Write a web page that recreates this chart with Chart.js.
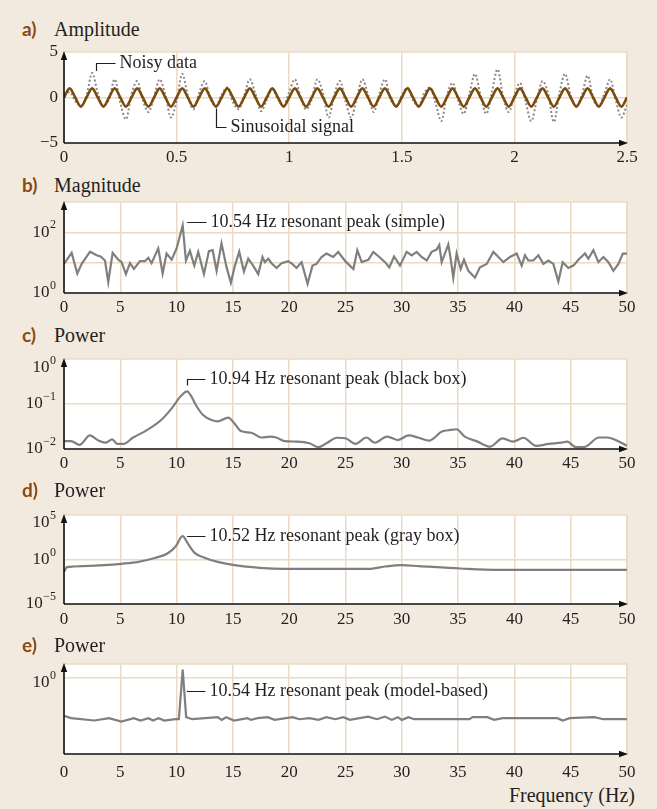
<!DOCTYPE html>
<html>
<head>
<meta charset="utf-8">
<script src="https://cdn.jsdelivr.net/npm/chart.js@4.4.1/dist/chart.umd.min.js"></script>
<style>
  body { margin: 0; background: #f3eadf; }
  #page { position: relative; width: 657px; height: 809px; background: #f3eadf; overflow: hidden; }
  #page canvas { position: absolute; left: 0; }
  .tag { position: absolute; font: bold 19px Lato, "Open Sans", sans-serif; line-height: 20px; color: #8a4a12; }
  .name { position: absolute; font: 20px "Liberation Serif", "Times New Roman", serif; line-height: 20px; color: #231f20; }
</style>
</head>
<body>
<div id="page">
  <div class="tag" style="left:22px; top:19px">a)</div><div class="name" style="left:54px; top:19px">Amplitude</div>
  <canvas id="chartA" width="657" height="131" style="top:42px"></canvas>
  <div class="tag" style="left:22px; top:175px">b)</div><div class="name" style="left:54px; top:175px">Magnitude</div>
  <canvas id="chartB" width="657" height="131" style="top:192px"></canvas>
  <div class="tag" style="left:22px; top:325px">c)</div><div class="name" style="left:54px; top:325px">Power</div>
  <canvas id="chartC" width="657" height="130" style="top:349px"></canvas>
  <div class="tag" style="left:22px; top:480px">d)</div><div class="name" style="left:54px; top:480px">Power</div>
  <canvas id="chartD" width="657" height="129" style="top:505px"></canvas>
  <div class="tag" style="left:22px; top:635px">e)</div><div class="name" style="left:54px; top:635px">Power</div>
  <canvas id="chartE" width="657" height="130" style="top:654px"></canvas>
  <div class="name" style="right:22px; top:785px">Frequency (Hz)</div>
</div>
<script>
// time axis, panel a (s)
const sampleTimes = [0,0.025,0.05,0.075,0.1,0.125,0.15,0.175,0.2,0.225,0.25,0.275,0.3,0.325,0.35,0.375,0.4,0.425,0.45,0.475,
  0.5,0.525,0.55,0.575,0.6,0.625,0.65,0.675,0.7,0.725,0.75,0.775,0.8,0.825,0.85,0.875,0.9,0.925,0.95,0.975,
  1,1.025,1.05,1.075,1.1,1.125,1.15,1.175,1.2,1.225,1.25,1.275,1.3,1.325,1.35,1.375,1.4,1.425,1.45,1.475,
  1.5,1.525,1.55,1.575,1.6,1.625,1.65,1.675,1.7,1.725,1.75,1.775,1.8,1.825,1.85,1.875,1.9,1.925,1.95,1.975,
  2,2.025,2.05,2.075,2.1,2.125,2.15,2.175,2.2,2.225,2.25,2.275,2.3,2.325,2.35,2.375,2.4,2.425,2.45,2.475,2.5];
const sineSignal = [0,1,0,-1,0,1,0,-1,0,1,0,-1,0,1,0,-1,0,1,0,-1,0,1,0,-1,0,1,0,-1,0,1,0,-1,0,1,0,-1,0,1,0,-1,
  0,1,0,-1,0,1,0,-1,0,1,0,-1,0,1,0,-1,0,1,0,-1,0,1,0,-1,0,1,0,-1,0,1,0,-1,0,1,0,-1,0,1,0,-1,
  0,1,0,-1,0,1,0,-1,0,1,0,-1,0,1,0,-1,0,1,0,-1,0];
const noisyData = [0.3,0.6,-0.4,-0.9, 0.2,2.7,0.5,-0.9, -0.2,2.0,-0.6,-2.4, 0.4,1.8,-0.3,-1.6, 0.1,2.0,0.3,-2.2,
  -0.4,2.6,0.2,-1.3, 0.5,1.8,-0.2,-0.9, 0.3,1.1,-0.5,-1.3, 0.2,2.0,0.4,-1.5, -0.3,0.9,-0.2,-0.9,
  0.6,2.0,0.1,-1.3, -0.2,2.0,0.5,-2.2, 0.3,1.8,-0.4,-2.2, -0.1,2.0,0.3,-1.6, 0.4,2.0,-0.2,-0.9,
  0.2,1.1,-0.3,-0.9, 0.5,1.1,-0.6,-2.6, 0.2,1.6,-0.3,-1.8, 0.4,2.6,0.2,-1.8, 0.6,3.1,0.1,-1.6,
  0.3,1.6,-0.5,-2.6, -0.2,1.8,0.4,-2.7, 0.5,2.6,0.2,-0.9, 0.3,2.4,-0.2,-0.9, 0.4,2.0,-0.3,-2.2, -0.8];

// b) magnitude spectrum, simple FFT
const simplePeakHz = 10.54;
const magFreq = [0,0.68,1.18,1.57,2.31,2.9,3.25,3.64,3.93,4.32,4.82,5.12,5.5,5.86,6.21,6.75,7.19,7.49,7.78,8.37,
  8.76,9.11,9.56,10.0,simplePeakHz,10.83,11.18,11.57,11.92,12.43,12.87,13.2,13.55,13.99,14.44,14.82,15.18,15.56,15.98,16.36,
  16.8,17.25,17.63,17.84,18.14,18.43,18.88,19.32,19.91,20.27,20.65,21.1,21.63,22.07,22.43,22.87,23.31,23.61,23.9,24.35,
  25.0,25.7,26.05,26.44,27.03,27.47,28.0,28.51,28.89,29.31,29.84,30.43,30.88,31.32,31.76,32.21,32.65,33.09,33.33,33.54,
  33.83,34.13,34.34,34.57,34.87,35.23,35.52,35.91,36.5,36.94,37.54,38.13,38.43,39.02,39.61,40.2,40.65,40.94,41.24,41.68,
  42.13,42.57,43.02,43.46,43.9,44.29,44.79,45.24,45.68,46.27,46.57,47.01,47.46,47.9,48.35,48.79,49.24,49.63,50];
const magValues = [9.1,21,4.4,9.1,23,17.5,16,11.8,2.3,21,12.5,10.4,4.2,9.6,6.2,11.2,11.2,14.6,9.6,29.5,
  4.4,20,12.5,29.5,168,11.8,24.5,8.0,22.7,4.2,24,25.8,5.4,43,7.0,2.2,8.0,23,5.1,13.5,
  8.0,4.2,15.4,10.4,13.5,9.6,6.7,9.6,11.2,9.1,6.7,10.4,2.0,8.0,9.1,15.4,20,17.5,15.4,22.7,
  11,6.2,25.8,10.4,12.5,22.7,15.4,10.4,7.0,16,8.0,22.7,17.5,22.7,15.4,11.8,22.7,27,38,10.4,
  20,40,13.5,3.2,20,6.2,12.5,5.4,3.2,7.0,9.1,22.7,17.5,10.4,15.4,20,8.0,17.5,11.8,11.8,
  17.5,9.1,11.8,9.1,2.4,10.4,6.7,8.0,12.5,20,13.5,25.8,10.4,15.4,10.4,5.4,9.1,20,20];

// c) power, black box
const blackPeakHz = 10.94;
const bbFreq = [0,0.63,1.38,2.3,3.05,3.68,4.28,4.72,5.28,6.14,7.33,8.63,9.56,10.38,blackPeakHz,11.23,11.8,12.35,13.1,13.65,
  14.58,15.14,15.7,16.63,17.56,18.3,18.86,19.6,20.7,21.8,22.6,23.3,24.25,25.0,25.9,26.86,27.6,28.7,29.65,30.6,
  31.5,32.45,33.56,34.3,34.86,35.6,36.72,37.83,38.95,39.88,40.8,41.93,43.05,44.16,44.7,45.45,46.2,47.5,48.25,49.0,50];
const bbPower = [0.015,0.015,0.0123,0.020,0.0154,0.0138,0.0163,0.013,0.013,0.018,0.026,0.044,0.080,0.15,0.19,0.159,0.087,0.057,0.044,0.041,
  0.050,0.037,0.025,0.023,0.018,0.0188,0.018,0.015,0.0146,0.0134,0.011,0.0134,0.0178,0.0173,0.013,0.018,0.0138,0.0188,0.0158,0.020,
  0.0178,0.0154,0.0244,0.0265,0.0275,0.0188,0.0146,0.0113,0.0173,0.0146,0.0178,0.0117,0.013,0.0138,0.0146,0.011,0.011,0.018,0.018,0.0158,0.0118];

// d) power, gray box
const grayPeakHz = 10.52;
const gbFreq = [0,0.26,0.82,3.6,5.1,6.6,8.07,9.19,9.93,grayPeakHz,11.05,11.6,12.54,13.65,15.14,17.37,19.6,27.05,28.5,30.0,31.5,35.2,38.6,50];
const gbPower = [0.041,0.138,0.163,0.23,0.33,0.55,1.5,4.7,31,420,49,5.6,1.5,0.55,0.23,0.115,0.089,0.089,0.163,0.23,0.18,0.098,0.069,0.069];

// e) power, model-based
const modelPeakHz = 10.54;
const mbFreq = [0,0.63,2.7,4.0,5.1,6.2,6.8,7.5,7.9,8.4,8.9,9.9,10.2,modelPeakHz,10.85,11.4,13.65,14.0,14.4,15.1,
  16.3,16.6,17.2,18.1,18.7,20.3,20.9,21.8,22.6,23.3,24.1,24.8,25.4,27.0,27.8,28.5,29.1,29.65,30.0,30.6,
  31.1,36.0,36.3,37.6,38.2,38.95,43.8,44.3,44.9,47.1,47.9,50];
const mbPower = [0.032,0.026,0.021,0.026,0.019,0.026,0.021,0.026,0.021,0.026,0.021,0.0236,0.0236,2.13,0.0284,0.0236,0.0284,0.0222,0.0284,0.0209,
  0.0259,0.0222,0.0259,0.0284,0.0222,0.0284,0.0236,0.0259,0.0222,0.0284,0.0236,0.0284,0.0222,0.030,0.0236,0.030,0.0222,0.0284,0.0222,0.0284,
  0.0236,0.0236,0.0284,0.0284,0.0222,0.0259,0.0259,0.0209,0.0259,0.0284,0.0236,0.0236];

// axes
const timeTicks = [0, 0.5, 1, 1.5, 2, 2.5];
const freqTicks = [0, 5, 10, 15, 20, 25, 30, 35, 40, 45, 50];
const ampGrid = [0];
const ampLabels = [5, 0, -5];
const magGrid = [10, 100];
const magLabels = [100, 1];
const bbGrid = [0.1];
const bbLabels = [1, 0.1, 0.01];
const gbGrid = [1];
const gbLabels = [1e5, 1, 1e-5];
const mbGrid = [1];
const mbLabels = [1];

const TAN = '#ecdac3';
const INK = '#231f20';
const LINE = '#7f7f7f';
const SERIF = '"Liberation Serif", "Times New Roman", serif';

const pts = (xs, ys) => xs.map((x, i) => ({ x, y: ys[i] }));
const minus = s => String(s).replace('-', '\u2212');

// white plot area, tan frame, black arrowed axes
const framePlugin = {
  id: 'frame',
  beforeDraw(chart) {
    const { ctx, chartArea: a } = chart;
    ctx.save();
    ctx.fillStyle = '#fff';
    ctx.fillRect(a.left, a.top, a.right - a.left, a.bottom - a.top);
    ctx.strokeStyle = TAN; ctx.lineWidth = 1.5;
    ctx.beginPath();
    ctx.moveTo(a.left, a.top); ctx.lineTo(a.right, a.top); ctx.lineTo(a.right, a.bottom);
    ctx.stroke();
    ctx.restore();
  },
  afterDatasetsDraw(chart) {
    const { ctx, chartArea: a } = chart;
    ctx.save();
    ctx.strokeStyle = '#111'; ctx.fillStyle = '#111'; ctx.lineWidth = 1.6;
    ctx.beginPath();
    ctx.moveTo(a.left, a.bottom); ctx.lineTo(a.left, a.top + 4);
    ctx.moveTo(a.left, a.bottom); ctx.lineTo(a.right - 4, a.bottom);
    ctx.stroke();
    ctx.beginPath();
    ctx.moveTo(a.left, a.top - 1); ctx.lineTo(a.left - 3.2, a.top + 8); ctx.lineTo(a.left + 3.2, a.top + 8);
    ctx.closePath(); ctx.fill();
    ctx.beginPath();
    ctx.moveTo(a.right + 1, a.bottom); ctx.lineTo(a.right - 8, a.bottom - 3.2); ctx.lineTo(a.right - 8, a.bottom + 3.2);
    ctx.closePath(); ctx.fill();
    ctx.restore();
  }
};

// y labels, powers of ten get a raised exponent
const yLabelPlugin = {
  id: 'yLabels',
  afterDraw(chart, args, opts) {
    const { ctx } = chart, scale = chart.scales.y;
    ctx.save();
    ctx.fillStyle = INK; ctx.textBaseline = 'middle'; ctx.textAlign = 'right';
    opts.values.forEach((v, i) => {
      const y = scale.getPixelForValue(v) + (opts.shift[i] || 0);
      let x = opts.right;
      if (opts.log) {
        const exp = minus(Math.round(Math.log10(v)));
        ctx.font = `12px ${SERIF}`;
        ctx.fillText(exp, x, y - 7);
        x -= ctx.measureText(exp).width + 0.5;
        ctx.font = `17px ${SERIF}`;
        ctx.fillText('10', x, y);
      } else {
        ctx.font = `17px ${SERIF}`;
        ctx.fillText(minus(v), x, y);
      }
    });
    ctx.restore();
  }
};

// callout lines with text
const notePlugin = {
  id: 'notes',
  afterDraw(chart, args, opts) {
    const { ctx } = chart, { x: sx, y: sy } = chart.scales;
    ctx.save();
    ctx.strokeStyle = INK; ctx.fillStyle = INK; ctx.lineWidth = 1.2;
    ctx.font = `18px ${SERIF}`; ctx.textBaseline = 'middle'; ctx.textAlign = 'left';
    (opts.items || []).forEach(n => {
      const px = Math.round(sx.getPixelForValue(n.x) + n.ox) + 0.5;
      const py = sy.getPixelForValue(n.y) + n.oy;
      const ey = Math.round(py - n.rise) + 0.5;
      ctx.beginPath();
      ctx.moveTo(px, py); ctx.lineTo(px, ey); ctx.lineTo(px + n.len, ey);
      ctx.stroke();
      ctx.fillText(n.text, px + n.len + 4, ey);
    });
    ctx.restore();
  }
};

function panel(id, cfg) {
  return new Chart(document.getElementById(id), {
    type: 'line',
    data: { datasets: cfg.datasets },
    options: {
      animation: false,
      responsive: false,
      devicePixelRatio: 1,
      layout: { padding: { top: 10, right: 30, bottom: 0, left: 0 } },
      elements: { point: { radius: 0 } },
      plugins: {
        legend: { display: false },
        tooltip: { enabled: false },
        yLabels: { values: cfg.yLabels, log: cfg.yType === 'logarithmic', right: cfg.labelRight, shift: cfg.labelShift || [] },
        notes: { items: cfg.notes }
      },
      scales: {
        x: {
          type: 'linear', min: cfg.xTicks[0], max: cfg.xTicks[cfg.xTicks.length - 1],
          afterBuildTicks: s => { s.ticks = cfg.xTicks.map(v => ({ value: v })); },
          afterFit: s => { s.height = 30; },
          grid: { color: TAN, lineWidth: 1.5, drawTicks: false },
          border: { display: false },
          ticks: {
            autoSkip: false, maxRotation: 0, padding: cfg.xPad, color: INK,
            font: { family: SERIF, size: 17 }, callback: v => String(v)
          }
        },
        y: {
          type: cfg.yType, min: cfg.yMin, max: cfg.yMax,
          afterBuildTicks: s => { s.ticks = cfg.yGrid.map(v => ({ value: v })); },
          afterFit: s => { s.width = 64; },
          grid: { color: TAN, lineWidth: 1.5, drawTicks: false },
          border: { display: false },
          ticks: { display: false }
        }
      }
    },
    plugins: [framePlugin, yLabelPlugin, notePlugin]
  });
}

const spectrum = (data, extra) => Object.assign({ data, borderColor: LINE, borderWidth: 2.2, tension: 0 }, extra);

panel('chartA', {
  xTicks: timeTicks, xPad: 4,
  yType: 'linear', yMin: -5, yMax: 5, yGrid: ampGrid, yLabels: ampLabels, labelRight: 58,
  datasets: [
    { data: pts(sampleTimes, sineSignal), borderColor: '#7c4a0a', borderWidth: 2.6, cubicInterpolationMode: 'monotone' },
    { data: pts(sampleTimes, noisyData), borderColor: '#8a8a8a', borderWidth: 2, borderDash: [2, 2.2], cubicInterpolationMode: 'monotone' }
  ],
  notes: [
    { x: 0.142, y: 2.9, ox: 0, oy: 0, rise: 8, len: 19, text: 'Noisy data' },
    { x: 0.675, y: -1.2, ox: 0, oy: 0, rise: -19, len: 10, text: 'Sinusoidal signal' }
  ]
});

panel('chartB', {
  xTicks: freqTicks, xPad: 4,
  yType: 'logarithmic', yMin: 1, yMax: 1000, yGrid: magGrid, yLabels: magLabels, labelRight: 56,
  datasets: [spectrum(pts(magFreq, magValues))],
  notes: [{ x: simplePeakHz, y: Math.max(...magValues), ox: 4, oy: -3, rise: 0, len: 19,
    text: `${simplePeakHz} Hz resonant peak (simple)` }]
});

panel('chartC', {
  xTicks: freqTicks, xPad: 4,
  yType: 'logarithmic', yMin: 0.01, yMax: 1, yGrid: bbGrid, yLabels: bbLabels, labelRight: 56, labelShift: [9, 0, 0],
  datasets: [spectrum(pts(bbFreq, bbPower), { cubicInterpolationMode: 'monotone' })],
  notes: [{ x: blackPeakHz, y: Math.max(...bbPower), ox: 0, oy: -6, rise: 6, len: 18,
    text: `${blackPeakHz} Hz resonant peak (black box)` }]
});

panel('chartD', {
  xTicks: freqTicks, xPad: 5,
  yType: 'logarithmic', yMin: 1e-5, yMax: 1e5, yGrid: gbGrid, yLabels: gbLabels, labelRight: 56, labelShift: [8, 0, 0],
  datasets: [spectrum(pts(gbFreq, gbPower), { cubicInterpolationMode: 'monotone' })],
  notes: [{ x: grayPeakHz, y: Math.max(...gbPower), ox: 4.5, oy: 0, rise: 0, len: 18,
    text: `${grayPeakHz} Hz resonant peak (gray box)` }]
});

panel('chartE', {
  xTicks: freqTicks, xPad: 8,
  yType: 'logarithmic', yMin: 0.001, yMax: 3.57, yGrid: mbGrid, yLabels: mbLabels, labelRight: 56, labelShift: [5],
  datasets: [spectrum(pts(mbFreq, mbPower))],
  notes: [{ x: modelPeakHz, y: Math.max(...mbPower), ox: 4.5, oy: 21, rise: 0, len: 18,
    text: `${modelPeakHz} Hz resonant peak (model-based)` }]
});
</script>
</body>
</html>
